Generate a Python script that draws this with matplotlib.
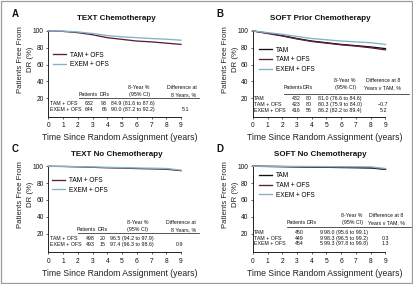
import matplotlib
matplotlib.use("Agg")
import matplotlib.pyplot as plt
from matplotlib.patches import Rectangle

plt.rcParams["font.family"] = ["Liberation Sans", "DejaVu Sans"]

TAM_COLOR = "#111111"
TAM_OFS_COLOR = "#621c3a"
EXEM_OFS_COLOR = "#80b3ca"

YEARS = [0, 1, 2, 3, 4, 5, 6, 7, 8, 9]

# A: TEXT chemotherapy
A_TITLE = "TEXT Chemotherapy"
A_TAM_OFS = [100, 99.5, 98, 95.5, 92, 90, 88, 87, 85.5, 84]
A_EXEM_OFS = [100, 99.8, 98.8, 97, 94.5, 93, 92, 91, 90.2, 89]
A_ROWS = ["TAM + OFS", "EXEM + OFS"]
A_PATIENTS = [632, 644]
A_DRS = [93, 66]
A_EST = ["84.9 (81.6 to 87.6)", "90.0 (87.2 to 92.2)"]
A_DIFF = ["", "5.1"]

# B: SOFT prior chemotherapy
B_TITLE = "SOFT Prior Chemotherapy"
B_TAM = [100, 97.5, 94.5, 91, 88, 86, 84, 82.5, 81, 79]
B_TAM_OFS = [100, 97, 94, 90.5, 87.5, 85.5, 83.5, 82, 80, 77.5]
B_EXEM_OFS = [100, 98, 96, 93.5, 91, 89.5, 88, 87, 86, 84]
B_ROWS = ["TAM", "TAM + OFS", "EXEM + OFS"]
B_PATIENTS = [432, 423, 416]
B_DRS = [80, 80, 56]
B_EST = ["81.0 (76.6 to 84.6)", "80.3 (75.9 to 84.0)", "86.2 (82.2 to 89.4)"]
B_DIFF = ["", "\u22120.7", "5.2"]

# C: TEXT no chemotherapy
C_TITLE = "TEXT No Chemotherapy"
C_TAM_OFS = [100, 99.8, 99.3, 98.8, 98.2, 97.8, 97.3, 96.9, 96.5, 94.8]
C_EXEM_OFS = [100, 99.9, 99.6, 99.2, 98.8, 98.4, 98.0, 97.7, 97.4, 95.4]
C_ROWS = ["TAM + OFS", "EXEM + OFS"]
C_PATIENTS = [498, 493]
C_DRS = [20, 15]
C_EST = ["96.5 (94.2 to 97.9)", "97.4 (96.3 to 98.6)"]
C_DIFF = ["", "0.9"]

# D: SOFT no chemotherapy
D_TITLE = "SOFT No Chemotherapy"
D_TAM = [100, 99.8, 99.6, 99.3, 99.0, 98.8, 98.5, 98.3, 98.0, 96.3]
D_TAM_OFS = [100, 99.9, 99.7, 99.4, 99.2, 99.0, 98.8, 98.6, 98.3, 96.7]
D_EXEM_OFS = [100, 100, 99.9, 99.8, 99.7, 99.6, 99.5, 99.4, 99.3, 97.3]
D_ROWS = ["TAM", "TAM + OFS", "EXEM + OFS"]
D_PATIENTS = [450, 449, 454]
D_DRS = [9, 9, 5]
D_EST = ["98.0 (95.6 to 99.1)", "98.3 (96.5 to 99.2)", "99.3 (97.8 to 99.8)"]
D_DIFF = ["", "0.3", "1.3"]

HEAD_TEXT = ["Difference at", "8 Years, %"]
HEAD_TAM = ["Difference at 8", "Years v TAM, %"]

TICK_FS = 4.8
TABLE_FS = 3.8


def draw_panel(ax, letter, title, series, rows, patients, drs, est, diff,
               diff_head, lay, leg_anchor):
    for label, vals, color in series:
        ax.plot(YEARS, vals, color=color, lw=0.95, label=label,
                clip_on=False, zorder=3)

    ax.set_xlim(0, 10.6)
    ax.set_ylim(-2, 100)
    ax.set_xticks(YEARS)
    ax.set_yticks([20, 40, 60, 80, 100])
    ax.spines["top"].set_visible(False)
    ax.spines["right"].set_visible(False)
    ax.spines["bottom"].set_bounds(0, 9)
    for s in ("left", "bottom"):
        ax.spines[s].set_linewidth(0.7)
        ax.spines[s].set_color("#222")
    ax.tick_params(axis="both", labelsize=TICK_FS, length=1.6, width=0.5,
                   color="#222", labelcolor="#111")
    ax.tick_params(axis="x", pad=2.3)
    ax.tick_params(axis="y", pad=1.6)

    ax.text(0.435, 1.14, title, transform=ax.transAxes, ha="center",
            va="center", fontsize=5.8, fontweight="bold", color="#111")
    ax.text(-0.235, 1.2, letter, transform=ax.transAxes, ha="left",
            va="center", fontsize=7, fontweight="bold", color="#111")
    ax.text(0.46, -0.245, "Time Since Random Assignment (years)",
            transform=ax.transAxes, ha="center", va="center",
            fontsize=6.2, color="#222")
    ax.text(-0.145, 0.67, "Patients Free From\nDR (%)", transform=ax.transAxes,
            rotation=90, ha="center", va="center", multialignment="center",
            fontsize=5.6, linespacing=1.6, color="#222")

    ax.legend(loc="upper left", bbox_to_anchor=leg_anchor, frameon=False,
              fontsize=4.7, handlelength=2.0, handletextpad=0.55,
              labelspacing=0.42, borderpad=0, borderaxespad=0)

    kw = dict(fontsize=TABLE_FS, color="#111", clip_on=False)
    h1, h2, line_y, row_ys = lay["ys"]
    ax.text(lay["pat_c"], h2, "Patients", ha="center", va="center", **kw)
    ax.text(lay["dr_c"], h2, "DRs", ha="center", va="center", **kw)
    ax.text(lay["est_h"], h1, "8-Year %", ha=lay["est_ha"], va="center", **kw)
    ax.text(lay["est_h"], h2, "(95% CI)", ha=lay["est_ha"], va="center", **kw)
    ax.text(lay["diff_h"], h1, diff_head[0], ha=lay["diff_ha"], va="center", **kw)
    ax.text(lay["diff_h"], h2, diff_head[1], ha=lay["diff_ha"], va="center", **kw)
    ax.plot(lay["line"], [line_y, line_y], color="#111", lw=0.5, clip_on=False)
    for y, name, n, d, e, df in zip(row_ys, rows, patients, drs, est, diff):
        ax.text(lay["lab"], y, name, ha="left", va="center", **kw)
        ax.text(lay["pat_r"], y, str(n), ha="right", va="center", **kw)
        ax.text(lay["dr_r"], y, str(d), ha="right", va="center", **kw)
        ax.text(lay["est_l"], y, e, ha="left", va="center", **kw)
        ax.text(lay["diff_c"], y, df, ha="center", va="center", **kw)


LAY_A = dict(ys=(32.8, 24.2, 20.0, [13.7, 6.6]), lab=0.12, pat_c=2.7,
             dr_c=3.82, pat_r=3.08, dr_r=3.98, est_l=4.22, est_h=6.15,
             est_ha="center", diff_h=10.05, diff_ha="right", diff_c=9.3,
             line=[2.05, 10.2])
LAY_B = dict(ys=(41.5, 32.8, 25.6, [19.6, 12.8, 5.7]), lab=0.07, pat_c=2.74,
             dr_c=3.74, pat_r=3.24, dr_r=4.02, est_l=4.44, est_h=6.98,
             est_ha="right", diff_h=8.83, diff_ha="center", diff_c=8.85,
             line=[2.14, 10.6])
LAY_C = dict(ys=(33.1, 25.0, 20.4, [14.8, 7.7]), lab=0.12, pat_c=2.6,
             dr_c=3.67, pat_r=3.12, dr_r=3.86, est_l=4.16, est_h=6.05,
             est_ha="center", diff_h=10.02, diff_ha="right", diff_c=8.9,
             line=[2.0, 10.24])
LAY_D = dict(ys=(41.0, 32.9, 28.1, [21.7, 14.8, 8.0]), lab=0.1, pat_c=2.94,
             dr_c=4.0, pat_r=3.44, dr_r=4.72, est_l=4.85, est_h=7.45,
             est_ha="right", diff_h=9.05, diff_ha="center", diff_c=9.0,
             line=[2.32, 10.7])

fig = plt.figure(figsize=(4.13, 2.84), dpi=100, facecolor="white")
ax_a = fig.add_axes([0.117, 0.589, 0.3785, 0.302])
ax_b = fig.add_axes([0.612, 0.589, 0.3785, 0.302])
ax_c = fig.add_axes([0.117, 0.112, 0.3785, 0.3025])
ax_d = fig.add_axes([0.612, 0.112, 0.3785, 0.3025])

draw_panel(ax_a, "A", A_TITLE,
           [("TAM + OFS", A_TAM_OFS, TAM_OFS_COLOR),
            ("EXEM + OFS", A_EXEM_OFS, EXEM_OFS_COLOR)],
           A_ROWS, A_PATIENTS, A_DRS, A_EST, A_DIFF, HEAD_TEXT, LAY_A,
           (0.03, 0.76))
draw_panel(ax_b, "B", B_TITLE,
           [("TAM", B_TAM, TAM_COLOR),
            ("TAM + OFS", B_TAM_OFS, TAM_OFS_COLOR),
            ("EXEM + OFS", B_EXEM_OFS, EXEM_OFS_COLOR)],
           B_ROWS, B_PATIENTS, B_DRS, B_EST, B_DIFF, HEAD_TAM, LAY_B,
           (0.04, 0.817))
draw_panel(ax_c, "C", C_TITLE,
           [("TAM + OFS", C_TAM_OFS, TAM_OFS_COLOR),
            ("EXEM + OFS", C_EXEM_OFS, EXEM_OFS_COLOR)],
           C_ROWS, C_PATIENTS, C_DRS, C_EST, C_DIFF, HEAD_TEXT, LAY_C,
           (0.025, 0.877))
draw_panel(ax_d, "D", D_TITLE,
           [("TAM", D_TAM, TAM_COLOR),
            ("TAM + OFS", D_TAM_OFS, TAM_OFS_COLOR),
            ("EXEM + OFS", D_EXEM_OFS, EXEM_OFS_COLOR)],
           D_ROWS, D_PATIENTS, D_DRS, D_EST, D_DIFF, HEAD_TAM, LAY_D,
           (0.04, 0.93))

fig.patches.append(Rectangle((0.002, 0.002), 0.996, 0.996, transform=fig.transFigure,
                             fill=False, edgecolor="#9a9a9a", lw=0.9))

fig.savefig("out.png", dpi=100, facecolor="white")
